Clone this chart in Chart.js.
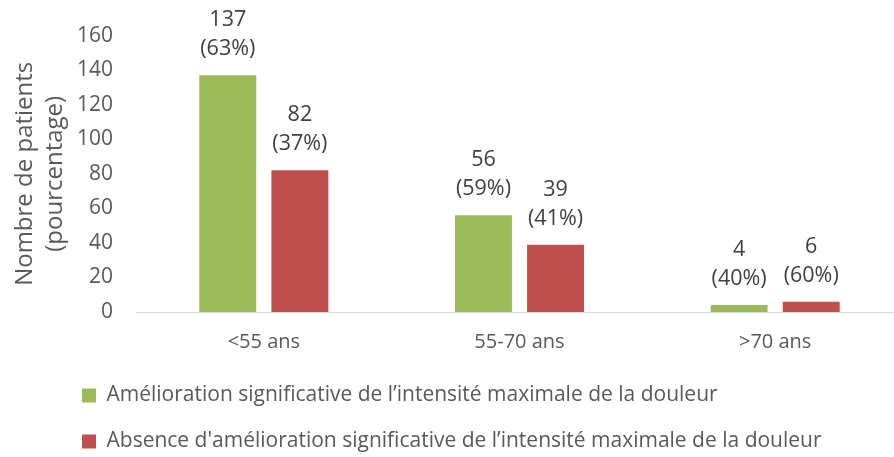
<!DOCTYPE html>
<html>
<head>
<meta charset="utf-8">
<title>Douleur par tranche d'âge</title>
<script src="https://cdn.jsdelivr.net/npm/chart.js@4.4.1/dist/chart.umd.min.js"></script>
<style>
  html, body { margin: 0; padding: 0; background: #fff; overflow: hidden; }
  #wrap { width: 894px; height: 457px; overflow: hidden; position: relative; }
  #wrap canvas { position: absolute; left: 0; top: 0; }
</style>
</head>
<body>
<div id="wrap"><canvas id="chart" width="903" height="462"></canvas></div>
<script>
// tranches d'âge
const categories = ["<55 ans", "55-70 ans", ">70 ans"];

// patients avec amélioration significative
const ameliorationCounts = [137, 56, 4];
const ameliorationPct = [63, 59, 40];

// patients sans amélioration significative
const absenceCounts = [82, 39, 6];
const absencePct = [37, 41, 60];

const seriesNames = [
  "Amélioration significative de l’intensité maximale de la douleur",
  "Absence d'amélioration significative de l’intensité maximale de la douleur"
];

const yMin = 0, yMax = 160, yStep = 20;

const grey = "#595959";
Chart.defaults.font.family = "'Open Sans', sans-serif";
Chart.defaults.font.size = 21;
Chart.defaults.color = grey;

const pctBySeries = [ameliorationPct, absencePct];

// deux lignes au-dessus de chaque barre : effectif puis pourcentage
const barLabels = {
  id: "barLabels",
  afterDatasetsDraw(chart) {
    const ctx = chart.ctx;
    ctx.save();
    ctx.font = "21.5px 'Open Sans', sans-serif";
    ctx.fillStyle = "#404040";
    ctx.textAlign = "center";
    ctx.textBaseline = "middle";
    chart.data.datasets.forEach((ds, i) => {
      chart.getDatasetMeta(i).data.forEach((bar, j) => {
        ctx.fillText(String(ds.data[j]), bar.x, bar.y - 55);
        ctx.fillText("(" + pctBySeries[i][j] + "%)", bar.x, bar.y - 26);
      });
    });
    ctx.restore();
  }
};

// décale la légende sous le graphique
const legendShift = {
  id: "legendShift",
  beforeDraw(chart) {
    chart.legend.left = 57;
  }
};

new Chart(document.getElementById("chart"), {
  type: "bar",
  data: {
    labels: categories,
    datasets: [
      {
        label: seriesNames[0],
        data: ameliorationCounts,
        backgroundColor: "#9BBB59",
        borderWidth: 0
      },
      {
        label: seriesNames[1],
        data: absenceCounts,
        backgroundColor: "#C0504D",
        borderWidth: 0
      }
    ]
  },
  options: {
    responsive: false,
    animation: false,
    categoryPercentage: 0.564,
    barPercentage: 0.79,
    layout: { padding: { top: 31, left: 0, right: 0, bottom: 0 } },
    plugins: {
      tooltip: { enabled: false },
      legend: {
        position: "bottom",
        align: "start",
        labels: {
          boxWidth: 14,
          boxHeight: 14,
          padding: 25,
          color: grey,
          font: { size: 21 }
        }
      }
    },
    scales: {
      x: {
        grid: { display: false, drawTicks: false },
        border: { display: true, color: "#d9d9d9", width: 1 },
        ticks: { color: grey, padding: 18, font: { size: 20 } },
        afterFit(scale) { scale.height = 48; }
      },
      y: {
        min: yMin,
        max: yMax,
        grid: { display: false, drawTicks: false },
        border: { display: false },
        ticks: { stepSize: yStep, color: grey, padding: 23, font: { size: 21 } },
        title: {
          display: true,
          text: ["Nombre de patients", "(pourcentage)"],
          color: grey,
          font: { size: 24, lineHeight: 1.22 },
          padding: { top: 11, bottom: 0 }
        },
        afterFit(scale) { scale.width = 136; }
      }
    }
  },
  plugins: [barLabels, legendShift]
});
</script>
</body>
</html>
